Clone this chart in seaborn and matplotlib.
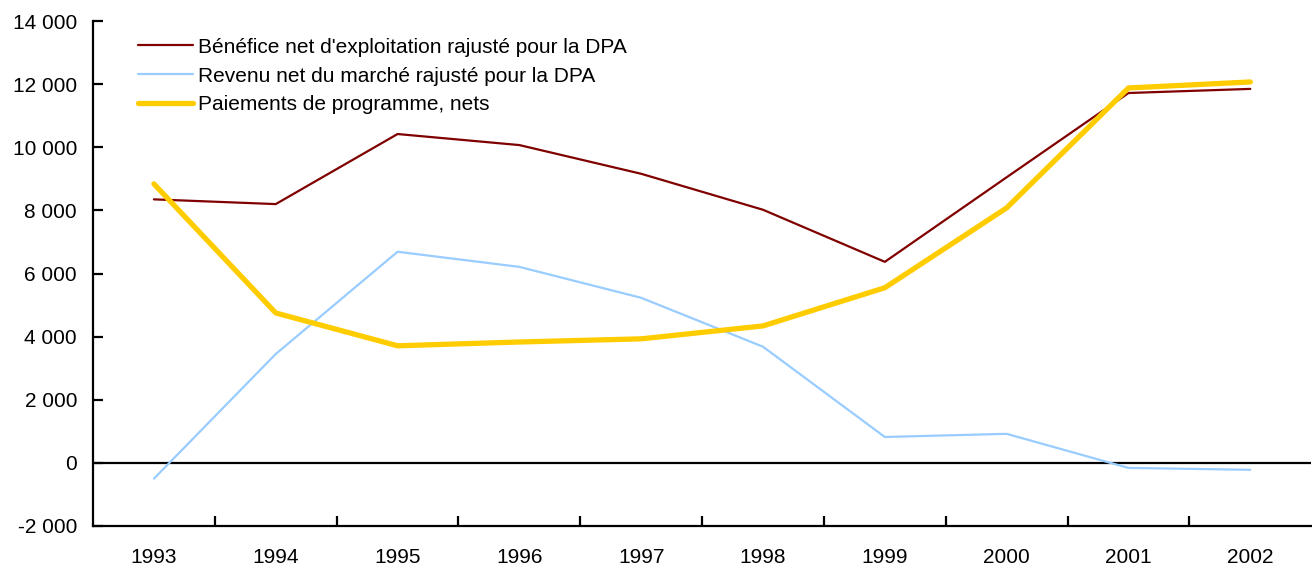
import numpy as np
import pandas as pd
import matplotlib.pyplot as plt
import matplotlib.ticker as mticker
import seaborn as sns

years = ["1993", "1994", "1995", "1996", "1997", "1998", "1999", "2000", "2001", "2002"]
benefice = [8350, 8200, 10420, 10070, 9160, 8020, 6370, 9050, 11720, 11850]
revenu = [-500, 3450, 6690, 6210, 5230, 3680, 820, 920, -160, -220]
paiements = [8840, 4750, 3710, 3830, 3930, 4340, 5550, 8080, 11880, 12070]

labels = [
    "Bénéfice net d'exploitation rajusté pour la DPA",
    "Revenu net du marché rajusté pour la DPA",
    "Paiements de programme, nets",
]
colors = ["#800000", "#99ccff", "#ffcc00"]
widths = [1.6, 1.6, 3.8]

sns.set_style("white", {"xtick.bottom": True, "ytick.left": True,
                        "text.color": "black", "xtick.color": "black", "ytick.color": "black"})
plt.rcParams["font.family"] = ["Liberation Sans", "DejaVu Sans"]
plt.rcParams["xtick.direction"] = "in"
plt.rcParams["ytick.direction"] = "in"

fig = plt.figure(figsize=(13.12, 5.69), dpi=100)
ax = fig.add_axes([0.0709, 0.0756, 0.9285, 0.8874])

x = np.arange(len(years))
for vals, lab, col, lw in zip([benefice, revenu, paiements], labels, colors, widths):
    sns.lineplot(x=x, y=vals, ax=ax, color=col, linewidth=lw, label=lab)

ax.axhline(0, color="black", linewidth=1.6, zorder=1)

ax.set_xlim(-0.5, len(years) - 0.5)
ax.set_ylim(-2000, 14000)
ax.set_xticks(x)
ax.set_xticklabels(years)
ax.set_xticks(np.arange(0.5, len(years) - 1, 1.0), minor=True)
ax.tick_params(axis="x", which="major", length=0, pad=16, labelsize=15, labelcolor="black")
ax.tick_params(axis="x", which="minor", bottom=True, direction="in", length=7, width=1.6, color="black")
ax.set_yticks(np.arange(-2000, 14001, 2000))
ax.yaxis.set_major_formatter(mticker.FuncFormatter(lambda v, p: f"{int(v):,}".replace(",", " ")))
ax.tick_params(axis="y", direction="in", length=7, width=1.6, color="black", labelsize=15,
               labelcolor="black", pad=11.5)

for side in ["top", "right"]:
    ax.spines[side].set_visible(False)
for side in ["left", "bottom"]:
    ax.spines[side].set_color("black")
    ax.spines[side].set_linewidth(1.6)

leg = ax.legend(loc="upper left", bbox_to_anchor=(0.0213, 1.004), frameon=False, fontsize=15,
                handlelength=2.65, handletextpad=0.25, labelspacing=0.47)
for t in leg.get_texts():
    t.set_color("black")

fig.savefig("out.png", dpi=100)
